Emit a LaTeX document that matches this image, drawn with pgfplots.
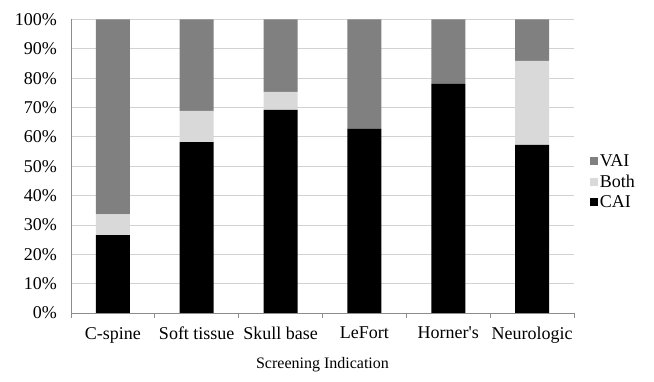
\documentclass[border=0pt]{standalone}
\usepackage{pgfplots}
\pgfplotsset{compat=1.18}
\usepackage{fontspec}
\setmainfont{Liberation Serif}[Ligatures=TeXOff]
\definecolor{vai}{RGB}{128,128,128}
\definecolor{both}{RGB}{217,217,217}
\definecolor{gridc}{RGB}{210,210,210}
\definecolor{axc}{RGB}{140,140,140}
\begin{document}
\fontsize{17}{20}\selectfont
\begin{tikzpicture}[x=1pt,y=1pt]
\useasboundingbox (-71,-69) rectangle (583,313);
\begin{axis}[
  at={(0,0)}, anchor=south west,
  scale only axis, width=503pt, height=293.5pt,
  ybar stacked, bar width=34pt,
  xmin=-0.5, xmax=5.5, ymin=0, ymax=100,
  xtick={0,1,2,3,4,5},
  xticklabels={C-spine,Soft tissue,Skull base,LeFort,Horner's,Neurologic},
  minor xtick={-0.5,0.5,1.5,2.5,3.5,4.5,5.5},
  ytick={0,10,...,100},
  yticklabel={\pgfmathprintnumber{\tick}\%},
  /pgf/number format/assume math mode=true,
  ymajorgrids, major grid style={gridc, line width=0.8pt},
  axis x line*=bottom, axis y line*=left,
  axis line style={axc, line width=0.8pt},
  x axis line style={-}, y axis line style={-},
  major x tick style={draw=none},
  minor x tick style={axc, line width=0.8pt},
  minor tick length=5pt,
  major y tick style={draw=none},
  tick align=outside,
  xticklabel style={font=\fontsize{18}{20}\selectfont, yshift=-4pt},
  yticklabel style={font=\fontsize{18}{20}\selectfont, xshift=-4pt},
  xlabel={Screening Indication},
  xlabel style={font=\fontsize{16}{18}\selectfont, yshift=-2pt},
  legend style={at={(1.025,0.446)}, anchor=west, draw=none, fill=none,
    font=\fontsize{18}{20}\selectfont, row sep=2pt,
    legend cell align=left},
  legend image code/.code={\draw[#1, draw=none] (0cm,-3.5pt) rectangle (8pt,4.5pt);},
  reverse legend,
]
\addplot[fill=black, draw=none] coordinates {(0,26.5) (1,58.2) (2,69.2) (3,62.8) (4,78.1) (5,57.3)};
\addplot[fill=both, draw=none] coordinates {(0,7.1) (1,10.7) (2,6.1) (3,0) (4,0) (5,28.6)};
\addplot[fill=vai, draw=none] coordinates {(0,66.4) (1,31.1) (2,24.7) (3,37.2) (4,21.9) (5,14.1)};
\legend{CAI,Both,VAI}
\end{axis}
\end{tikzpicture}
\end{document}
